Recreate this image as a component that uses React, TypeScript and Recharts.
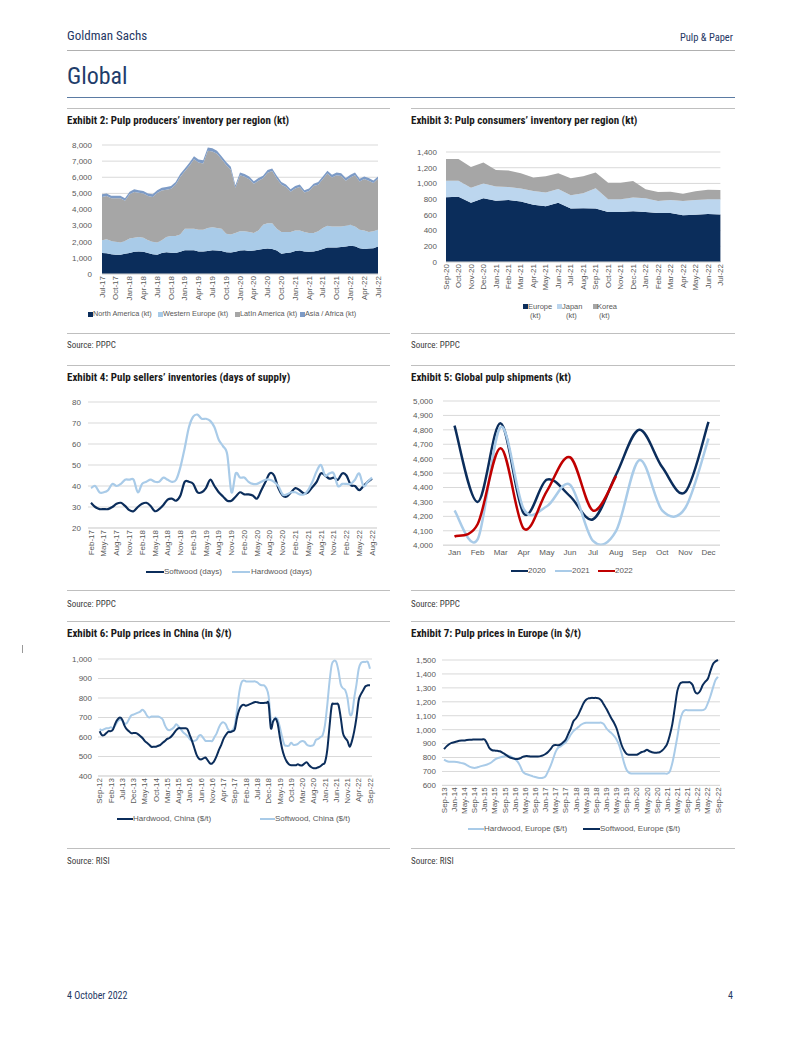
import React from "react";
import { AreaChart, Area, LineChart, Line, XAxis, YAxis, CartesianGrid } from "recharts";

const FONT = "'Liberation Sans', Arial, sans-serif";
const NARROW = "'Liberation Sans Narrow', 'Arial Narrow', 'Roboto Condensed', 'DejaVu Sans Condensed', sans-serif";
const NAVY = "#0b2d5b";
const LIGHT = "#a9cbe8";
const GRAY = "#a6a6a6";
const MID = "#7d9bc6";
const RED = "#c00000";
const TICK = "#595959";
const GRID = "#d9d9d9";

const MON = ["Jan", "Feb", "Mar", "Apr", "May", "Jun", "Jul", "Aug", "Sep", "Oct", "Nov", "Dec"];
function monthLabels(month: number, year: number, count: number) {
  const out: string[] = [];
  for (let i = 0; i < count; i++) {
    const m = (month + i) % 12;
    const y = year + Math.floor((month + i) / 12);
    out.push(`${MON[m]}-${String(y).padStart(2, "0")}`);
  }
  return out;
}

// Exhibit 2: producers' inventory, Jul-17 .. Jul-22
const ex2Months = monthLabels(6, 17, 61);
const northAmerica = [1300, 1280, 1230, 1200, 1200, 1250, 1300, 1380, 1400, 1380, 1300, 1220, 1200, 1300, 1350, 1320, 1300, 1380, 1480, 1480, 1470, 1400, 1400, 1420, 1480, 1450, 1430, 1350, 1330, 1380, 1450, 1480, 1430, 1450, 1500, 1550, 1580, 1550, 1450, 1250, 1300, 1330, 1430, 1450, 1400, 1380, 1400, 1450, 1550, 1650, 1650, 1650, 1680, 1700, 1750, 1720, 1600, 1550, 1580, 1600, 1700];
const westernEurope = [800, 870, 820, 800, 750, 800, 900, 870, 900, 870, 800, 780, 750, 800, 950, 1030, 1050, 1070, 1320, 1320, 1330, 1350, 1350, 1430, 1420, 1400, 1370, 1150, 1120, 1170, 1200, 1170, 1170, 1100, 1200, 1500, 1570, 1600, 1350, 1350, 1300, 1270, 1270, 1250, 1200, 1170, 1150, 1200, 1300, 1350, 1300, 1300, 1270, 1300, 1300, 1230, 1150, 1150, 1020, 1050, 1050];
const latinAmerica = [2680, 2680, 2640, 2690, 2740, 2490, 2740, 2840, 2740, 2740, 2730, 2780, 3080, 3080, 2930, 2930, 3180, 3570, 3570, 3920, 4310, 4160, 4110, 4800, 4700, 4600, 4310, 4260, 4010, 2800, 3470, 3380, 3280, 3040, 3090, 2890, 3130, 3230, 3130, 2940, 2790, 2500, 2600, 2700, 2450, 2600, 2900, 2890, 3040, 3230, 3030, 3180, 3130, 2790, 2930, 3180, 2990, 3190, 3190, 3000, 3150];
const asiaAfrica = [170, 170, 160, 160, 160, 160, 160, 160, 160, 160, 170, 170, 170, 170, 170, 170, 170, 180, 180, 180, 190, 190, 190, 200, 200, 200, 190, 190, 190, 150, 180, 170, 170, 160, 160, 160, 170, 170, 170, 160, 160, 150, 150, 150, 150, 150, 150, 160, 160, 170, 170, 170, 170, 160, 170, 170, 160, 160, 160, 150, 150];
const ex2Ticks = [0, 1000, 2000, 3000, 4000, 5000, 6000, 7000, 8000];

// Exhibit 3: consumers' inventory, Sep-20 .. Jul-22
const ex3Months = monthLabels(8, 20, 23);
const europe = [825, 830, 755, 810, 780, 790, 770, 730, 710, 755, 680, 685, 680, 635, 635, 645, 635, 625, 625, 595, 600, 610, 605];
const japan = [210, 205, 190, 190, 180, 165, 165, 175, 175, 175, 170, 190, 260, 165, 165, 175, 175, 150, 165, 180, 190, 190, 195];
const korea = [275, 275, 265, 265, 210, 210, 195, 170, 205, 200, 215, 215, 200, 210, 210, 210, 115, 115, 105, 95, 110, 120, 115];
const ex3Ticks = [0, 200, 400, 600, 800, 1000, 1200, 1400];

// Exhibit 4: sellers' inventories (days), Feb-17 .. Aug-22
const ex4Months = monthLabels(1, 17, 67);
const softwoodDays = [32, 30, 29, 29, 29, 30, 31.5, 32, 30.5, 28.5, 28, 30, 31.5, 32, 30.5, 28, 29, 31, 33.5, 34, 33, 35.5, 42, 42, 41, 37, 37, 39, 43, 40, 37, 35, 33, 33, 35, 37, 36, 36, 35.5, 34, 38, 42, 46, 45, 39, 35.5, 35, 37, 39, 38, 36.5, 37, 39.5, 42, 46, 45, 43.5, 44, 43, 46, 45, 40.5, 40, 38, 40, 42, 43.5];
const hardwoodDays = [39, 40, 37, 37, 38, 41, 40, 41, 43, 43, 43, 37, 41, 42, 43, 42, 42, 44, 43, 42, 43, 49, 58, 68, 73, 74, 72, 72, 71, 68, 62, 59, 55, 37, 46, 44, 44, 42, 41, 41, 42, 43, 43, 42, 40, 36, 36, 37, 37, 36, 36, 38, 42, 47, 50, 45, 46, 46, 40, 41, 41, 41, 43, 46, 40, 42, 44];
const ex4Ticks = [20, 30, 40, 50, 60, 70, 80];

// Exhibit 5: global shipments (kt)
const ex5Months = ["Jan", "Feb", "Mar", "Apr", "May", "Jun", "Jul", "Aug", "Sep", "Oct", "Nov", "Dec"];
const ship2020 = [4830, 4300, 4845, 4220, 4455, 4340, 4180, 4490, 4800, 4540, 4370, 4855];
const ship2021 = [4240, 4040, 4820, 4250, 4270, 4420, 4030, 4100, 4590, 4240, 4260, 4740];
const ship2022 = [4060, 4145, 4673, 4115, 4375, 4610, 4240, 4480];
const ex5Ticks = [4000, 4100, 4200, 4300, 4400, 4500, 4600, 4700, 4800, 4900, 5000];

// Exhibit 6: China prices, Sep-12 .. Sep-22
const ex6Months = monthLabels(8, 12, 121);
const hardwoodChina = [630, 610, 610, 620, 630, 630, 640, 670, 690, 700, 690, 660, 640, 630, 620, 620, 620, 615, 605, 595, 580, 570, 560, 550, 550, 550, 555, 560, 570, 580, 590, 595, 605, 620, 635, 645, 645, 645, 645, 640, 610, 580, 545, 510, 490, 485, 490, 495, 480, 465, 465, 480, 505, 535, 560, 590, 610, 625, 625, 630, 640, 700, 740, 760, 765, 760, 765, 770, 775, 780, 778, 775, 775, 775, 775, 770, 645, 680, 695, 670, 600, 540, 500, 475, 460, 455, 455, 455, 460, 455, 455, 465, 470, 455, 445, 440, 440, 445, 450, 460, 470, 530, 650, 760, 770, 770, 765, 700, 620, 595, 580, 550, 580, 630, 700, 790, 820, 840, 860, 865, 865];
const softwoodChina = [640, 635, 640, 645, 645, 650, 645, 660, 680, 690, 685, 670, 670, 690, 710, 715, 720, 725, 730, 740, 730, 710, 700, 705, 705, 705, 705, 700, 690, 660, 640, 635, 640, 650, 665, 655, 640, 625, 615, 605, 590, 580, 580, 585, 605, 610, 595, 580, 580, 580, 580, 600, 620, 650, 670, 675, 665, 640, 630, 635, 660, 740, 830, 880, 890, 885, 885, 885, 885, 885, 880, 870, 865, 865, 850, 810, 690, 680, 700, 690, 650, 600, 560, 555, 555, 570, 560, 560, 565, 575, 580, 575, 560, 555, 555, 560, 585, 590, 600, 610, 660, 760, 880, 970, 990, 985, 940, 870, 850, 840, 800, 720, 720, 800, 870, 950, 980, 985, 985, 985, 950];
const ex6Ticks = [400, 500, 600, 700, 800, 900, 1000];

// Exhibit 7: Europe prices, Sep-13 .. Sep-22
const ex7Months = monthLabels(8, 13, 109);
const hardwoodEurope = [785, 775, 770, 770, 770, 768, 765, 760, 755, 745, 735, 728, 725, 728, 735, 740, 745, 750, 758, 770, 785, 795, 800, 805, 810, 815, 810, 800, 790, 770, 740, 700, 685, 678, 672, 665, 660, 655, 653, 655, 665, 700, 740, 790, 840, 870, 880, 895, 910, 935, 965, 990, 1005, 1020, 1035, 1045, 1050, 1050, 1050, 1050, 1050, 1050, 1050, 1040, 1010, 990, 975, 955, 930, 890, 830, 760, 710, 690, 685, 685, 685, 685, 685, 685, 685, 685, 685, 685, 685, 685, 685, 685, 685, 700, 760, 850, 950, 1060, 1120, 1140, 1140, 1140, 1140, 1140, 1140, 1140, 1140, 1150, 1190, 1240, 1300, 1355, 1380];
const softwoodEurope = [860, 880, 895, 905, 910, 915, 920, 922, 922, 925, 927, 928, 930, 930, 930, 930, 930, 900, 865, 852, 850, 848, 845, 835, 825, 812, 800, 795, 790, 790, 795, 805, 810, 810, 808, 808, 808, 808, 810, 815, 825, 840, 860, 885, 890, 888, 895, 910, 930, 970, 1010, 1060, 1080, 1110, 1150, 1190, 1215, 1225, 1228, 1228, 1228, 1225, 1210, 1180, 1150, 1115, 1080, 1050, 1010, 950, 890, 850, 825, 820, 820, 820, 820, 830, 840, 845, 855, 845, 838, 835, 835, 838, 850, 870, 900, 960, 1040, 1160, 1280, 1330, 1340, 1340, 1340, 1340, 1320, 1270, 1260, 1280, 1320, 1345, 1365, 1420, 1470, 1490, 1500];
const ex7Ticks = [600, 700, 800, 900, 1000, 1100, 1200, 1300, 1400, 1500];

const ex2Data = ex2Months.map((m, i) => ({ m, na: northAmerica[i], we: westernEurope[i], la: latinAmerica[i], as: asiaAfrica[i] }));
const ex3Data = ex3Months.map((m, i) => ({ m, eu: europe[i], jp: japan[i], kr: korea[i] }));
const ex4Data = ex4Months.map((m, i) => ({ m, sw: softwoodDays[i], hw: hardwoodDays[i] }));
const ex5Data = ex5Months.map((m, i) => ({ m, y20: ship2020[i], y21: ship2021[i], y22: ship2022[i] ?? null }));
const ex6Data = ex6Months.map((m, i) => ({ m, hw: hardwoodChina[i], sw: softwoodChina[i] }));
const ex7Data = ex7Months.map((m, i) => ({ m, hw: hardwoodEurope[i], sw: softwoodEurope[i] }));

const fmt = (v: number) => v.toLocaleString("en-US");
const tickStyle = { fill: TICK, fontSize: 8, fontFamily: FONT };

// Excel-like smoothed line (Catmull-Rom through the points)
const smooth = (ctx: any) => {
  let pts: number[][] = [];
  return {
    areaStart() {},
    areaEnd() {},
    lineStart() { pts = []; },
    point(x: number, y: number) { pts.push([+x, +y]); },
    lineEnd() {
      if (!pts.length) return;
      ctx.moveTo(pts[0][0], pts[0][1]);
      for (let i = 0; i < pts.length - 1; i++) {
        const p0 = pts[i - 1] || pts[i];
        const p1 = pts[i];
        const p2 = pts[i + 1];
        const p3 = pts[i + 2] || p2;
        ctx.bezierCurveTo(
          p1[0] + (p2[0] - p0[0]) / 6, p1[1] + (p2[1] - p0[1]) / 6,
          p2[0] - (p3[0] - p1[0]) / 6, p2[1] - (p3[1] - p1[1]) / 6,
          p2[0], p2[1]
        );
      }
    },
  };
};

function RotTick(props: any) {
  const { x, y, payload } = props;
  return (
    <g transform={`translate(${x},${y}) rotate(-90)`}>
      <text x={0} y={0} dy="0.33em" textAnchor="end" fill={TICK} fontSize={8} fontFamily={FONT}>
        {payload.value}
      </text>
    </g>
  );
}

const abs = (left: number, top: number): React.CSSProperties => ({ position: "absolute", left, top });

function Txt({ x, y, size = 8, color = TICK, family = FONT, weight = 400, right, children }: any) {
  const style: React.CSSProperties = {
    position: "absolute",
    top: y - size * 0.6,
    fontSize: size,
    lineHeight: `${size * 1.2}px`,
    color,
    fontFamily: family,
    fontWeight: weight,
    whiteSpace: "nowrap",
  };
  if (right !== undefined) style.right = 802 - right;
  else style.left = x;
  return <div style={style}>{children}</div>;
}

function Rule({ x, y, w, color = "#bfbfbf", h = 1 }: any) {
  return <div style={{ position: "absolute", left: x, top: y, width: w, height: h, background: color }} />;
}

function Sq({ x, y, color }: any) {
  return <div style={{ position: "absolute", left: x, top: y - 2.5, width: 5, height: 5, background: color }} />;
}

function Ln({ x, y, w, color }: any) {
  return <div style={{ position: "absolute", left: x, top: y - 1.25, width: w, height: 2.5, background: color }} />;
}

function Exhibit2() {
  return (
    <div style={abs(62, 139)}>
      <AreaChart width={322} height={175} data={ex2Data} margin={{ top: 6, right: 6, left: 0, bottom: 0 }}>
        <CartesianGrid vertical={false} stroke={GRID} />
        <XAxis dataKey="m" interval={2} tick={<RotTick />} tickLine={false} axisLine={{ stroke: GRID }} height={40} tickSize={0} tickMargin={2} />
        <YAxis width={40} interval={0} domain={[0, 8000]} ticks={ex2Ticks} tickFormatter={fmt} tick={tickStyle} axisLine={false} tickLine={false} tickSize={0} tickMargin={10} />
        <Area type="linear" dataKey="na" stackId="1" stroke="none" fill={NAVY} fillOpacity={1} isAnimationActive={false} />
        <Area type="linear" dataKey="we" stackId="1" stroke="none" fill={LIGHT} fillOpacity={1} isAnimationActive={false} />
        <Area type="linear" dataKey="la" stackId="1" stroke="none" fill={GRAY} fillOpacity={1} isAnimationActive={false} />
        <Area type="linear" dataKey="as" stackId="1" stroke="none" fill={MID} fillOpacity={1} isAnimationActive={false} />
      </AreaChart>
    </div>
  );
}

function Exhibit3() {
  return (
    <div style={abs(405.6, 146.4)}>
      <AreaChart width={320.4} height={156} data={ex3Data} margin={{ top: 6, right: 6, left: 0, bottom: 0 }}>
        <CartesianGrid vertical={false} stroke={GRID} />
        <XAxis dataKey="m" interval={0} tick={<RotTick />} tickLine={false} axisLine={{ stroke: GRID }} height={40} tickSize={0} tickMargin={2} />
        <YAxis width={40} interval={0} domain={[0, 1400]} ticks={ex3Ticks} tickFormatter={fmt} tick={tickStyle} axisLine={false} tickLine={false} tickSize={0} tickMargin={9} />
        <Area type="linear" dataKey="eu" stackId="1" stroke="none" fill={NAVY} fillOpacity={1} isAnimationActive={false} />
        <Area type="linear" dataKey="jp" stackId="1" stroke="none" fill="#bcd6ee" fillOpacity={1} isAnimationActive={false} />
        <Area type="linear" dataKey="kr" stackId="1" stroke="none" fill={GRAY} fillOpacity={1} isAnimationActive={false} />
      </AreaChart>
    </div>
  );
}

function Exhibit4() {
  return (
    <div style={abs(58, 396)}>
      <LineChart width={325} height={172} data={ex4Data} margin={{ top: 6, right: 6, left: 0, bottom: 0 }}>
        <CartesianGrid vertical={false} stroke={GRID} />
        <XAxis dataKey="m" interval={2} tick={<RotTick />} tickLine={false} axisLine={{ stroke: GRID }} height={40} tickSize={0} tickMargin={2} padding={{ left: 3, right: 5 }} />
        <YAxis width={30} interval={0} domain={[20, 80]} ticks={ex4Ticks} tick={tickStyle} axisLine={false} tickLine={false} tickSize={0} tickMargin={7} />
        <Line type={smooth as any} dataKey="sw" stroke={NAVY} strokeWidth={2.2} dot={false} isAnimationActive={false} />
        <Line type={smooth as any} dataKey="hw" stroke={LIGHT} strokeWidth={2.2} dot={false} isAnimationActive={false} />
      </LineChart>
    </div>
  );
}

function Exhibit5() {
  return (
    <div style={abs(403, 394.5)}>
      <LineChart width={323} height={172} data={ex5Data} margin={{ top: 6, right: 6, left: 0, bottom: 0 }}>
        <CartesianGrid vertical={false} stroke={GRID} />
        <XAxis dataKey="m" interval={0} tick={tickStyle} tickLine={false} axisLine={{ stroke: GRID }} height={21.8} tickSize={0} tickMargin={4} padding={{ left: 11.5, right: 11.5 }} />
        <YAxis width={40} interval={0} domain={[4000, 5000]} ticks={ex5Ticks} tickFormatter={fmt} tick={tickStyle} axisLine={false} tickLine={false} tickSize={0} tickMargin={10} />
        <Line type={smooth as any} dataKey="y20" stroke={NAVY} strokeWidth={2.5} dot={false} isAnimationActive={false} />
        <Line type={smooth as any} dataKey="y21" stroke={LIGHT} strokeWidth={2.5} dot={false} isAnimationActive={false} />
        <Line type={smooth as any} dataKey="y22" stroke={RED} strokeWidth={2.5} dot={false} isAnimationActive={false} />
      </LineChart>
    </div>
  );
}

function Exhibit6() {
  return (
    <div style={abs(58, 653)}>
      <LineChart width={320} height={163} data={ex6Data} margin={{ top: 6, right: 6, left: 0, bottom: 0 }}>
        <CartesianGrid vertical={false} stroke={GRID} />
        <XAxis dataKey="m" interval={4} tick={<RotTick />} tickLine={false} axisLine={{ stroke: GRID }} height={40} tickSize={0} tickMargin={2} padding={{ left: 1.6, right: 2 }} />
        <YAxis width={40} interval={0} domain={[400, 1000]} ticks={ex6Ticks} tickFormatter={fmt} tick={tickStyle} axisLine={false} tickLine={false} tickSize={0} tickMargin={6} />
        <Line type={smooth as any} dataKey="sw" stroke={LIGHT} strokeWidth={2} dot={false} isAnimationActive={false} />
        <Line type={smooth as any} dataKey="hw" stroke={NAVY} strokeWidth={2} dot={false} isAnimationActive={false} />
      </LineChart>
    </div>
  );
}

function Exhibit7() {
  return (
    <div style={abs(402, 653.8)}>
      <LineChart width={324} height={171.4} data={ex7Data} margin={{ top: 6, right: 6, left: 0, bottom: 0 }}>
        <CartesianGrid vertical={false} stroke={GRID} />
        <XAxis dataKey="m" interval={3} tick={<RotTick />} tickLine={false} axisLine={{ stroke: GRID }} height={40} tickSize={0} tickMargin={2} padding={{ left: 2, right: 2 }} />
        <YAxis width={40} interval={0} domain={[600, 1500]} ticks={ex7Ticks} tickFormatter={fmt} tick={tickStyle} axisLine={false} tickLine={false} tickSize={0} tickMargin={6} />
        <Line type={smooth as any} dataKey="hw" stroke={LIGHT} strokeWidth={2} dot={false} isAnimationActive={false} />
        <Line type={smooth as any} dataKey="sw" stroke={NAVY} strokeWidth={2} dot={false} isAnimationActive={false} />
      </LineChart>
    </div>
  );
}

export default function App() {
  const title = { size: 11, color: "#1a1a1a", family: NARROW, weight: 700 };
  const src = { size: 9, color: "#404040", family: NARROW };
  return (
    <div style={{ position: "absolute", left: 0, top: 0, width: 802, height: 1037, background: "#fff" }}>
      <Txt x={67} y={36} size={13} color="#1f3864" family={NARROW}>Goldman Sachs</Txt>
      <Txt right={733} y={38} size={10.5} color="#1f3864" family={NARROW}>Pulp &amp; Paper</Txt>
      <Rule x={67} y={50} w={668} color="#b0b0b0" />
      <Txt x={67} y={76} size={24} color="#1f3d6b" family={NARROW}>Global</Txt>
      <Rule x={67} y={97} w={668} color="#5b7ba3" />

      <Rule x={67} y={108} w={323} />
      <Rule x={411} y={108} w={324} />
      <Txt x={67} {...title} y={121}>Exhibit 2: Pulp producers’ inventory per region (kt)</Txt>
      <Txt x={411} {...title} y={121}>Exhibit 3: Pulp consumers’ inventory per region (kt)</Txt>
      <Exhibit2 />
      <Exhibit3 />
      <Sq x={88} y={314} color={NAVY} />
      <Txt x={93} y={314} size={7.3}>North America (kt)</Txt>
      <Sq x={158} y={314} color={LIGHT} />
      <Txt x={163} y={314} size={7.3}>Western Europe (kt)</Txt>
      <Sq x={235} y={314} color={GRAY} />
      <Txt x={240} y={314} size={7.3}>LatIn America (kt)</Txt>
      <Sq x={300} y={314} color={MID} />
      <Txt x={305} y={314} size={7.3}>Asia / Africa (kt)</Txt>
      <Sq x={523} y={306} color={NAVY} />
      <Txt x={528} y={306} size={7.5}>Europe</Txt>
      <Txt x={530} y={315} size={7.5}>(kt)</Txt>
      <Sq x={557} y={306} color="#bcd6ee" />
      <Txt x={562} y={306} size={7.5}>Japan</Txt>
      <Txt x={566} y={315} size={7.5}>(kt)</Txt>
      <Sq x={593} y={306} color={GRAY} />
      <Txt x={597} y={306} size={7.5}>Korea</Txt>
      <Txt x={599} y={315} size={7.5}>(kt)</Txt>
      <Rule x={67} y={333} w={323} />
      <Rule x={411} y={333} w={324} />
      <Txt x={67} {...src} y={345}>Source: PPPC</Txt>
      <Txt x={411} {...src} y={345}>Source: PPPC</Txt>

      <Rule x={67} y={365} w={323} />
      <Rule x={411} y={365} w={324} />
      <Txt x={67} {...title} y={378}>Exhibit 4: Pulp sellers’ inventories (days of supply)</Txt>
      <Txt x={411} {...title} y={378}>Exhibit 5: Global pulp shipments (kt)</Txt>
      <Exhibit4 />
      <Exhibit5 />
      <Ln x={146} y={572} w={18} color={NAVY} />
      <Txt x={164} y={572}>Softwood (days)</Txt>
      <Ln x={232} y={572} w={18} color={LIGHT} />
      <Txt x={251} y={572}>Hardwood (days)</Txt>
      <Ln x={511} y={571} w={17} color={NAVY} />
      <Txt x={528} y={571}>2020</Txt>
      <Ln x={555} y={571} w={17} color={LIGHT} />
      <Txt x={572} y={571}>2021</Txt>
      <Ln x={598} y={571} w={17} color={RED} />
      <Txt x={615} y={571}>2022</Txt>
      <Rule x={67} y={590} w={323} />
      <Rule x={411} y={590} w={324} />
      <Txt x={67} {...src} y={604}>Source: PPPC</Txt>
      <Txt x={411} {...src} y={604}>Source: PPPC</Txt>

      <Rule x={67} y={621} w={323} />
      <Rule x={411} y={621} w={324} />
      <Txt x={67} {...title} y={634}>Exhibit 6: Pulp prices in China (in $/t)</Txt>
      <Txt x={411} {...title} y={634}>Exhibit 7: Pulp prices in Europe (in $/t)</Txt>
      <Exhibit6 />
      <Exhibit7 />
      <Ln x={117} y={819} w={16} color={NAVY} />
      <Txt x={133} y={819}>Hardwood, China ($/t)</Txt>
      <Ln x={260} y={819} w={15} color={LIGHT} />
      <Txt x={275} y={819}>Softwood, China ($/t)</Txt>
      <Ln x={468} y={829} w={16} color={LIGHT} />
      <Txt x={484} y={829}>Hardwood, Europe ($/t)</Txt>
      <Ln x={583} y={829} w={17} color={NAVY} />
      <Txt x={600} y={829}>Softwood, Europe ($/t)</Txt>
      <Rule x={67} y={848} w={323} />
      <Rule x={411} y={848} w={324} />
      <Txt x={67} {...src} y={861}>Source: RISI</Txt>
      <Txt x={411} {...src} y={861}>Source: RISI</Txt>

      <div style={{ position: "absolute", left: 22, top: 645, width: 1, height: 8, background: "#999" }} />
      <Txt x={67} y={996} size={10} color="#1f3864" family={NARROW}>4 October 2022</Txt>
      <Txt right={733} y={996} size={10} color="#1f3864" family={NARROW}>4</Txt>
    </div>
  );
}
